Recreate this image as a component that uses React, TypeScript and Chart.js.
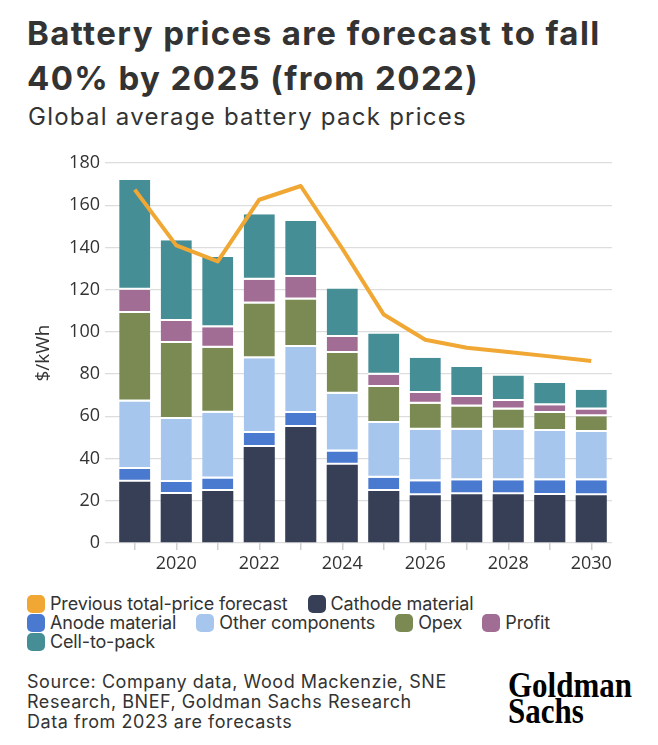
import React, { useEffect, useRef } from 'react';
import { Chart, registerables } from 'chart.js';

Chart.register(...registerables);

const years = ['2019', '2020', '2021', '2022', '2023', '2024', '2025', '2026', '2027', '2028', '2029', '2030'];
const prevForecast = [167.4, 141, 133.4, 162.6, 169.1, 139.5, 108.2, 96.3, 92.5, 90.5, 88.4, 86.2];
const cathode = [29, 23.2, 24.6, 45.5, 55, 37.1, 24.6, 22.6, 23.1, 23.1, 22.7, 22.6];
const anode = [6, 5.7, 5.9, 6.6, 6.6, 6.3, 6.3, 6.6, 6.6, 6.6, 7, 7.1];
const otherComponents = [32, 29.8, 31.2, 35.4, 31.2, 27.3, 25.9, 24.5, 24, 24, 23.4, 22.9];
const opex = [42, 36, 30.8, 25.9, 22.5, 19.3, 17.1, 12.3, 11, 9.5, 8.5, 7.4];
const profit = [11, 10.5, 9.7, 11.3, 10.7, 7.6, 5.8, 5.1, 4.5, 4.1, 3.6, 3.2];
const cellToPack = [52, 38.2, 33.3, 31, 26.5, 22.9, 19.5, 16.7, 14.2, 12.1, 10.6, 9.4];
const yTicks = [0, 20, 40, 60, 80, 100, 120, 140, 160, 180];

const C_ORANGE = '#F0A733';
const C_CATHODE = '#363F56';
const C_ANODE = '#4A79D0';
const C_OTHER = '#A7C6EE';
const C_OPEX = '#7A8A52';
const C_PROFIT = '#A26D95';
const C_CTP = '#468E96';
const TEXT = '#333333';
const FONT = 'Inter, "Noto Sans", sans-serif';
const AXIS_FONT = '"Open Sans", Inter, sans-serif';

const legendRows: { label: string; color: string }[][] = [
  [
    { label: 'Previous total-price forecast', color: C_ORANGE },
    { label: 'Cathode material', color: C_CATHODE },
  ],
  [
    { label: 'Anode material', color: C_ANODE },
    { label: 'Other components', color: C_OTHER },
    { label: 'Opex', color: C_OPEX },
    { label: 'Profit', color: C_PROFIT },
  ],
  [{ label: 'Cell-to-pack', color: C_CTP }],
];

export default function App() {
  const ref = useRef<HTMLCanvasElement>(null);

  useEffect(() => {
    if (!ref.current) return;
    const seg = (label: string, data: number[], color: string, first: boolean) => ({
      type: 'bar' as const,
      label,
      data,
      backgroundColor: color,
      borderColor: '#ffffff',
      borderWidth: first ? 0 : { top: 0, left: 0, right: 0, bottom: 2 },
      borderSkipped: false as const,
      stack: 'bars',
      order: 1,
      categoryPercentage: 1.0,
      barPercentage: 0.75,
    });
    const chart = new Chart(ref.current, {
      type: 'bar',
      data: {
        labels: years,
        datasets: [
          {
            type: 'line',
            label: 'Previous total-price forecast',
            data: prevForecast,
            borderColor: C_ORANGE,
            backgroundColor: C_ORANGE,
            borderWidth: 4,
            pointRadius: 0,
            tension: 0,
            borderJoinStyle: 'round',
            stack: 'line',
            order: 0,
          } as any,
          seg('Cathode material', cathode, C_CATHODE, true),
          seg('Anode material', anode, C_ANODE, false),
          seg('Other components', otherComponents, C_OTHER, false),
          seg('Opex', opex, C_OPEX, false),
          seg('Profit', profit, C_PROFIT, false),
          seg('Cell-to-pack', cellToPack, C_CTP, false),
        ],
      },
      options: {
        animation: false,
        responsive: false,
        maintainAspectRatio: false,
        layout: { padding: { top: 23, right: 46, bottom: 17, left: 0 } },
        plugins: { legend: { display: false }, tooltip: { enabled: false } },
        scales: {
          x: {
            stacked: true,
            grid: {
              display: true,
              drawOnChartArea: false,
              drawTicks: true,
              tickLength: 7,
              offset: false,
              color: '#cfcfcf',
              lineWidth: 1.5,
            },
            border: { display: false },
            ticks: {
              autoSkip: false,
              maxRotation: 0,
              padding: 3,
              color: TEXT,
              font: { family: AXIS_FONT, size: 18 },
              callback: (_v: any, i: number) => (Number(years[i]) % 2 === 0 ? years[i] : ''),
            },
            afterFit: (s: any) => {
              s.height = 30;
            },
          },
          y: {
            stacked: true,
            min: yTicks[0],
            max: yTicks[yTicks.length - 1],
            afterBuildTicks: (s: any) => {
              s.ticks = yTicks.map((v) => ({ value: v }));
            },
            ticks: { padding: 5, color: TEXT, font: { family: AXIS_FONT, size: 18 } },
            grid: { color: '#dddddd', lineWidth: 1.3, tickLength: 9 },
            border: { display: false },
            title: {
              display: true,
              text: '$/kWh',
              color: TEXT,
              font: { family: AXIS_FONT, size: 19 },
              padding: { top: 32, bottom: 0 },
            },
            afterFit: (s: any) => {
              s.width = 114;
            },
          },
        },
      } as any,
    });
    return () => chart.destroy();
  }, []);

  return (
    <div
      style={{
        position: 'absolute',
        left: 0,
        top: 0,
        width: 658,
        height: 745,
        background: '#ffffff',
        fontFamily: FONT,
        color: TEXT,
        overflow: 'hidden',
      }}
    >
      <div
        style={{
          position: 'absolute',
          left: 27,
          top: 10.5,
          fontSize: 33,
          fontWeight: 700,
          lineHeight: '45px',
          whiteSpace: 'nowrap',
          letterSpacing: '1.4px',
        }}
      >
        Battery prices are forecast to fall
        <br />
        40% by 2025 (from 2022)
      </div>
      <div
        style={{
          position: 'absolute',
          left: 28,
          top: 102,
          fontSize: 24,
          lineHeight: '30px',
          whiteSpace: 'nowrap',
          letterSpacing: '1.25px',
        }}
      >
        Global average battery pack prices
      </div>
      <canvas
        ref={ref}
        width={658}
        height={450}
        style={{ position: 'absolute', left: 0, top: 140, width: 658, height: 450 }}
      />
      <div style={{ position: 'absolute', left: 27, top: 594 }}>
        {legendRows.map((row, ri) => (
          <div key={ri} style={{ display: 'flex', alignItems: 'center', height: 19 }}>
            {row.map((it) => (
              <div
                key={it.label}
                style={{ display: 'flex', alignItems: 'center', marginRight: 20, whiteSpace: 'nowrap' }}
              >
                <span
                  style={{
                    display: 'inline-block',
                    width: 18,
                    height: 18,
                    borderRadius: 5,
                    background: it.color,
                    marginRight: 5,
                  }}
                />
                <span style={{ fontSize: 18, lineHeight: '19px', letterSpacing: '-0.15px' }}>{it.label}</span>
              </div>
            ))}
          </div>
        ))}
      </div>
      <div
        style={{
          position: 'absolute',
          left: 27,
          top: 671.5,
          fontSize: 18,
          lineHeight: '20px',
          whiteSpace: 'nowrap',
          letterSpacing: '0.55px',
        }}
      >
        Source: Company data, Wood Mackenzie, SNE
        <br />
        Research, BNEF, Goldman Sachs Research
        <br />
        Data from 2023 are forecasts
      </div>
      <div
        style={{
          position: 'absolute',
          left: 508,
          top: 672,
          fontFamily: '"Liberation Serif", "DejaVu Serif", serif',
          fontWeight: 700,
          fontSize: 36,
          lineHeight: '26px',
          color: '#000',
          transform: 'scaleX(0.86)',
          transformOrigin: 'left top',
          whiteSpace: 'nowrap',
        }}
      >
        Goldman
        <br />
        Sachs
      </div>
    </div>
  );
}
